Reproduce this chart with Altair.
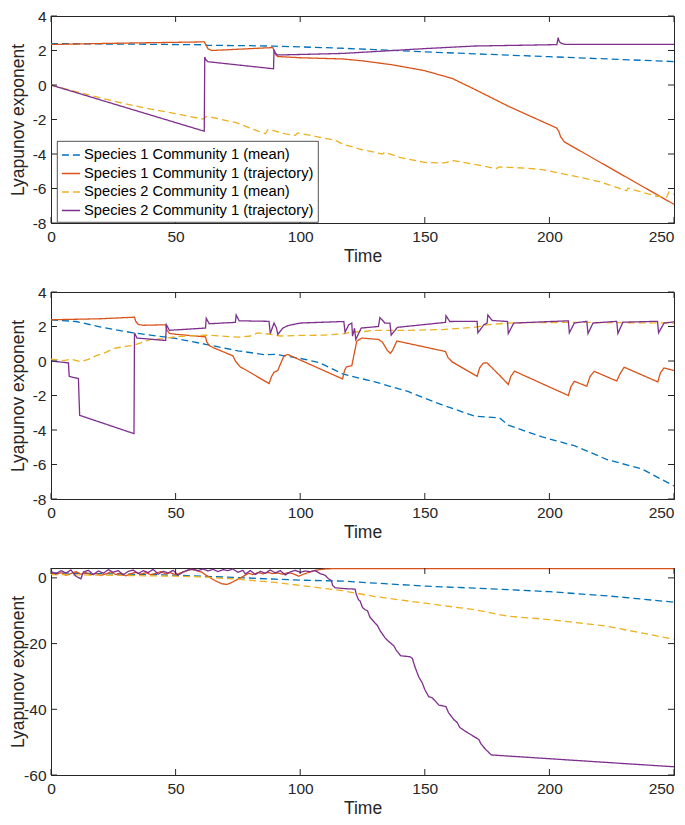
import altair as alt
import pandas as pd

SERIES = [
    "Species 1 Community 1 (mean)",
    "Species 1 Community 1 (trajectory)",
    "Species 2 Community 1 (mean)",
    "Species 2 Community 1 (trajectory)",
]
COLORS = ["#0072BD", "#D95319", "#EDB120", "#7E2F8E"]
DASHES = [[7, 4], [1, 0], [7, 4], [1, 0]]

X_TICKS = [0, 50, 100, 150, 200, 250]
Y_TICKS_1 = [-8, -6, -4, -2, 0, 2, 4]
Y_TICKS_2 = [-8, -6, -4, -2, 0, 2, 4]
Y_TICKS_3 = [-60, -40, -20, 0]

# ---------------- Panel 1 ----------------
p1_s1_mean_t = [0, 20, 40, 62, 63, 80, 90, 91, 100, 117, 130, 150, 175, 200, 225, 250]
p1_s1_mean_v = [2.4, 2.38, 2.36, 2.33, 2.3, 2.28, 2.25, 2.24, 2.21, 2.13, 2.05, 1.92, 1.78, 1.64, 1.5, 1.36]

p1_s1_traj_t = [0, 30, 61.5, 62.3, 63, 64.5, 89, 89.5, 90.2, 91, 100, 117, 125, 137, 150, 161,
                170, 183.5, 197, 203, 203.8, 204.5, 206, 207.6, 250]
p1_s1_traj_v = [2.35, 2.43, 2.5, 2.3, 2.1, 2.0, 2.17, 2.0, 1.75, 1.65, 1.58, 1.51, 1.4, 1.17, 0.83, 0.38,
                -0.25, -1.23, -2.11, -2.5, -2.7, -3.0, -3.3, -3.43, -6.92]

p1_s2_mean_t = [0, 10, 20, 30, 40, 50, 61, 62, 63, 74, 86, 87, 88, 94, 98, 99, 106, 114, 117, 124.7,
                133, 134, 140, 150, 157, 160, 161.5, 170, 178.6, 180, 183.5, 190, 197, 210, 220, 231,
                231.5, 243, 247, 248, 250]
p1_s2_mean_v = [0, -0.38, -0.75, -1.1, -1.4, -1.66, -1.98, -1.85, -1.83, -2.17, -2.83, -2.6, -2.6, -2.83,
                -2.92, -2.78, -2.98, -3.2, -3.43, -3.74, -4.0, -3.9, -4.2, -4.49, -4.53, -4.45, -4.38,
                -4.6, -4.85, -4.75, -4.77, -4.82, -4.9, -5.28, -5.6, -6.13, -5.98, -6.45, -6.5, -6.2, -6.35]

p1_s2_traj_t = [0, 61.5, 61.7, 62.2, 63, 89.3, 89.5, 90, 91, 100, 117, 135, 150, 170, 203, 203.5, 204,
                205, 206.5, 250]
p1_s2_traj_v = [0, -2.68, 1.62, 1.45, 1.35, 0.94, 2.05, 1.85, 1.74, 1.77, 1.83, 1.98, 2.11, 2.26, 2.34,
                2.74, 2.5, 2.4, 2.35, 2.35]

# ---------------- Panel 2 ----------------
p2_s1_mean_t = [0, 10, 20, 33, 50, 62, 75, 86, 90, 100, 107.4, 117, 120.7, 130, 143.5, 150, 157, 170,
                180, 183.5, 197, 210, 223.4, 236.8, 250]
p2_s1_mean_v = [2.39, 2.29, 1.97, 1.63, 1.31, 0.97, 0.59, 0.36, 0.39, 0.15, -0.08, -0.74, -0.89, -1.21,
                -1.78, -2.16, -2.54, -3.2, -3.3, -3.72, -4.4, -4.91, -5.73, -6.24, -7.24]

p2_s1_traj_t = [0, 20, 33.5, 34, 35, 37, 46, 46.5, 47.5, 50, 62, 62.5, 63.5, 65, 73, 74, 76, 78, 87.5,
                88.5, 89.5, 91, 92, 93.5, 95, 117, 117.8, 118.5, 120.7, 121.5, 122.7, 124.7, 131.4, 133,
                135, 136.2, 137, 138.8, 158.3, 159.3, 161, 171, 172, 173.5, 175, 177, 180, 183.5, 184.5,
                186, 207.6, 208.6, 210, 215, 216.3, 218, 227, 228.5, 230, 243.5, 244.5, 246, 250]
p2_s1_traj_v = [2.39, 2.45, 2.54, 2.3, 2.12, 2.07, 2.1, 1.8, 1.6, 1.55, 1.4, 1.1, 0.9, 0.78, 0.3, 0.0,
                -0.35, -0.5, -1.31, -0.9, -0.65, -0.55, -0.2, 0.3, 0.38, -1.04, -0.55, -0.35, -0.27,
                0.3, 1.15, 1.33, 1.25, 1.1, 0.6, 0.45, 0.6, 1.16, 0.55, 0.2, -0.05, -0.89, -0.4, -0.12,
                -0.11, -0.4, -0.83, -1.36, -0.9, -0.59, -2.0, -1.5, -1.18, -1.46, -0.9, -0.6, -1.16,
                -0.7, -0.36, -1.21, -0.7, -0.4, -0.55]

p2_s2_mean_t = [0, 5, 8, 12, 15, 18, 22, 25, 30, 33, 36, 40, 45, 50, 55, 62, 68, 75, 80, 83, 88, 92,
                100, 110, 118, 120, 125, 130, 143.5, 157, 170, 175, 183.5, 190, 210, 230, 250]
p2_s2_mean_v = [0.11, 0.02, 0.1, -0.04, 0.1, 0.3, 0.5, 0.72, 0.85, 0.91, 1.05, 1.25, 1.3, 1.4, 1.45,
                1.5, 1.45, 1.38, 1.45, 1.63, 1.55, 1.45, 1.48, 1.5, 1.59, 1.67, 1.7, 1.78, 1.78, 1.82,
                1.95, 2.1, 2.2, 2.22, 2.24, 2.22, 2.2]

p2_s2_traj_t = [0, 7, 7.3, 11, 11.2, 11.5, 33.3, 33.5, 34.5, 46, 46.3, 47.5, 62, 62.3, 63.5, 74, 74.3,
                75.5, 87.5, 88, 89.5, 90.5, 91, 93, 95, 100, 117.5, 118, 119.5, 120.7, 121, 121.8,
                122.3, 124.5, 131.4, 132, 134, 136, 136.5, 139, 158.3, 158.5, 160, 171, 171.3, 173.7,
                175, 175.3, 177, 183.2, 183.5, 185.7, 207.6, 208, 210, 215, 215.5, 217.5, 227, 227.5,
                229.5, 243.4, 243.8, 246, 250]
p2_s2_traj_v = [0, -0.11, -0.89, -1.02, -1.9, -3.15, -4.21, 1.63, 1.33, 1.19, 2.1, 1.78, 1.91, 2.48,
                2.16, 2.24, 2.67, 2.33, 2.3, 1.59, 2.2, 1.9, 1.54, 1.9, 2.05, 2.2, 2.29, 1.67, 2.1, 2.2,
                1.44, 1.9, 1.25, 1.91, 2.0, 2.52, 2.2, 2.2, 1.5, 1.95, 2.24, 2.63, 2.29, 2.3, 1.63, 2.1,
                2.2, 2.67, 2.35, 2.29, 1.59, 2.2, 2.33, 1.63, 2.2, 2.3, 1.59, 2.2, 2.3, 1.6, 2.25, 2.3,
                1.63, 2.2, 2.27]

# ---------------- Panel 3 ----------------
p3_s1_mean_t = [0, 10, 25, 40, 50, 60, 75, 90, 100, 117, 130, 150, 175, 200, 225, 250]
p3_s1_mean_v = [1.5, 1.4, 1.2, 1.0, 0.8, 0.5, 0.1, -0.4, -0.7, -1.0, -1.6, -2.5, -3.3, -4.2, -5.6, -7.4]

p3_s1_traj_t = [0, 2, 4, 6, 8, 10, 12, 14, 16, 18, 20, 22, 24, 26, 28, 30, 32, 34, 36, 38, 40, 42, 44,
                46, 48, 50, 52, 54, 56, 58, 60.6, 62, 64.6, 66, 68.6, 70.6, 72, 74, 76.6, 79.3, 81, 83,
                85, 87, 89, 91, 93, 95, 97, 99.4, 102, 104, 106, 110, 113, 250]
p3_s1_traj_v = [1.5, 1.0, 1.6, 0.8, 1.3, 1.9, 1.1, 1.6, 0.9, 1.4, 0.7, 1.2, 1.8, 1.0, 1.5, 0.6, 1.3,
                1.7, 1.1, 1.6, 1.0, 1.4, 1.9, 1.2, 1.6, 0.9, 1.5, 2.0, 2.6, 2.3, 1.7, 0.9, -0.3, -0.9,
                -1.8, -2.0, -1.6, -0.8, 0.2, 1.4, 1.0, 1.6, 1.2, 1.7, 1.3, 1.5, 1.1, 1.6, 1.3, 0.5, 1.3,
                1.8, 2.3, 2.7, 2.8, 2.8]

p3_s2_mean_t = [0, 10, 25, 40, 50, 60, 75, 90, 100, 117, 130, 150, 170, 183.5, 200, 223, 250]
p3_s2_mean_v = [1.0, 0.9, 0.8, 0.6, 0.5, 0.3, -0.4, -1.4, -2.3, -3.9, -5.7, -7.7, -9.7, -11.7, -12.7,
                -14.7, -18.7]

p3_s2_traj_t = [0, 2, 4, 6, 8, 10, 12, 13, 15, 17, 19, 21, 23, 25, 27, 29, 31, 33, 35, 37, 39, 41, 43,
                45, 47, 49, 51, 53, 55, 57, 59, 61, 63, 65, 67, 69, 71, 73, 75, 77, 78, 80, 82, 84, 86,
                88, 90, 92, 94, 96, 98, 100, 102, 104, 106, 108, 110, 111.4, 112.5, 113, 114, 118,
                121.4, 122, 122.5, 123.4, 124, 125, 126, 127, 128, 130, 131, 132, 134, 135, 137.6,
                138.5, 140.3, 144, 145, 146, 147.6, 149, 150, 151.6, 153, 155.6, 158.5, 159.5, 161.7,
                163, 164, 166.3, 168, 171.7, 172.5, 174.4, 175.5, 176.7, 250]
p3_s2_traj_v = [2.0, 1.2, 2.2, 1.5, 2.4, 0.5, -0.3, 1.8, 2.3, 1.0, 2.1, 1.4, 2.5, 1.7, 2.2, 0.9, 2.0,
                2.4, 1.3, 2.2, 1.6, 2.6, 1.1, 2.0, 1.5, 2.3, 0.8, 1.8, 2.4, 2.6, 2.2, 2.7, 2.1, 2.6,
                1.9, 2.5, 2.2, 2.7, 1.7, 2.3, 1.2, 2.2, 1.0, 2.0, 1.4, 2.4, 1.5, 2.2, 0.9, 1.8, 2.3,
                1.7, 2.1, 1.9, 2.2, 1.3, 0.8, -0.3, -0.8, -2.3, -3.0, -3.3, -3.4, -3.4, -5.0, -6.7,
                -7.0, -9.0, -9.7, -10.0, -12.0, -13.7, -14.5, -16.0, -18.2, -19.0, -20.7, -22.0, -23.7,
                -24.0, -24.5, -27.0, -30.2, -32.0, -34.0, -36.2, -36.5, -38.7, -39.2, -41.0, -43.2,
                -44.0, -45.5, -46.7, -47.5, -49.2, -50.5, -52.2, -53.0, -53.9, -57.5]

PANELS = {
    1: [(p1_s1_mean_t, p1_s1_mean_v), (p1_s1_traj_t, p1_s1_traj_v),
        (p1_s2_mean_t, p1_s2_mean_v), (p1_s2_traj_t, p1_s2_traj_v)],
    2: [(p2_s1_mean_t, p2_s1_mean_v), (p2_s1_traj_t, p2_s1_traj_v),
        (p2_s2_mean_t, p2_s2_mean_v), (p2_s2_traj_t, p2_s2_traj_v)],
    3: [(p3_s1_mean_t, p3_s1_mean_v), (p3_s1_traj_t, p3_s1_traj_v),
        (p3_s2_mean_t, p3_s2_mean_v), (p3_s2_traj_t, p3_s2_traj_v)],
}

rows = []
for p, lst in PANELS.items():
    for name, (ts, vs) in zip(SERIES, lst):
        for i, (t, v) in enumerate(zip(ts, vs)):
            rows.append({"panel": p, "series": name, "i": i, "t": t, "v": v})
df = pd.DataFrame(rows)

W = 623
H = 207
INK = "#262626"
TL = 6  # inner tick length


def panel(p, ydom, yticks, show_legend):
    d = df[df["panel"] == p]
    xs = alt.Scale(domain=[0, 250], nice=False, zero=False)
    ys = alt.Scale(domain=ydom, nice=False, zero=False)
    xa = alt.Axis(values=X_TICKS, title="Time", labelExpr="'' + datum.value",
                  labelAlign={"condition": {"test": "datum.value == 250", "value": "right"},
                              "value": "center"})
    ya = alt.Axis(values=yticks, title="Lyapunov exponent", labelExpr="'' + datum.value",
                  titleX=-24)
    leg = alt.Legend(title=None) if show_legend else None
    lines = alt.Chart(d).mark_line(strokeWidth=1.3, clip=True).encode(
        x=alt.X("t:Q", scale=xs, axis=xa),
        y=alt.Y("v:Q", scale=ys, axis=ya),
        color=alt.Color("series:N", scale=alt.Scale(domain=SERIES, range=COLORS), legend=leg),
        strokeDash=alt.StrokeDash("series:N", scale=alt.Scale(domain=SERIES, range=DASHES), legend=leg),
        order=alt.Order("i:Q"),
    )
    xt = pd.DataFrame({"t": X_TICKS})
    yt = pd.DataFrame({"v": yticks})
    xb = alt.Chart(xt).mark_rule(color=INK, strokeWidth=1).encode(
        x=alt.X("t:Q", scale=xs, axis=xa), y=alt.value(H - TL), y2=alt.value(H))
    xtop = alt.Chart(xt).mark_rule(color=INK, strokeWidth=1).encode(
        x=alt.X("t:Q", scale=xs, axis=xa), y=alt.value(0), y2=alt.value(TL))
    yl = alt.Chart(yt).mark_rule(color=INK, strokeWidth=1).encode(
        y=alt.Y("v:Q", scale=ys, axis=ya), x=alt.value(0), x2=alt.value(TL))
    yr = alt.Chart(yt).mark_rule(color=INK, strokeWidth=1).encode(
        y=alt.Y("v:Q", scale=ys, axis=ya), x=alt.value(W - TL), x2=alt.value(W))
    return alt.layer(lines, xb, xtop, yl, yr).properties(width=W, height=H)


c1 = panel(1, [-8, 4], Y_TICKS_1, True)
c2 = panel(2, [-8, 4], Y_TICKS_2, False)
c3 = panel(3, [-60, 3], Y_TICKS_3, False)

chart = alt.vconcat(c1, c2, c3, spacing=69, bounds="flush").resolve_scale(
    y="independent", color="independent", strokeDash="independent"
).resolve_legend(
    color="independent", strokeDash="independent"
).properties(
    padding={"top": 0, "bottom": -1, "left": 0, "right": 0}
).configure(
    font="Liberation Sans"
).configure_view(
    stroke=INK, strokeWidth=1
).configure_axis(
    labelFont="Liberation Sans", labelFontSize=15.5, labelColor=INK,
    titleFont="Liberation Sans", titleFontSize=17.5, titleFontWeight="normal", titleColor=INK,
    domainColor=INK, domainWidth=1, ticks=False, grid=False, labelFlush=False,
    labelPadding=5, titlePadding=4,
).configure_axisX(labelPadding=6, titlePadding=3).configure_legend(
    orient="none", legendX=6, legendY=125, labelFont="Liberation Sans", labelFontSize=14.7,
    labelColor="#000000", fillColor="white", strokeColor=INK, strokeWidth=0.8, padding=4,
    symbolType="stroke", symbolSize=330, symbolStrokeWidth=1.4, rowPadding=1.5, labelOffset=3,
    labelLimit=400,
)

chart.save("out.html", embed_options={"renderer": "svg", "actions": False})
